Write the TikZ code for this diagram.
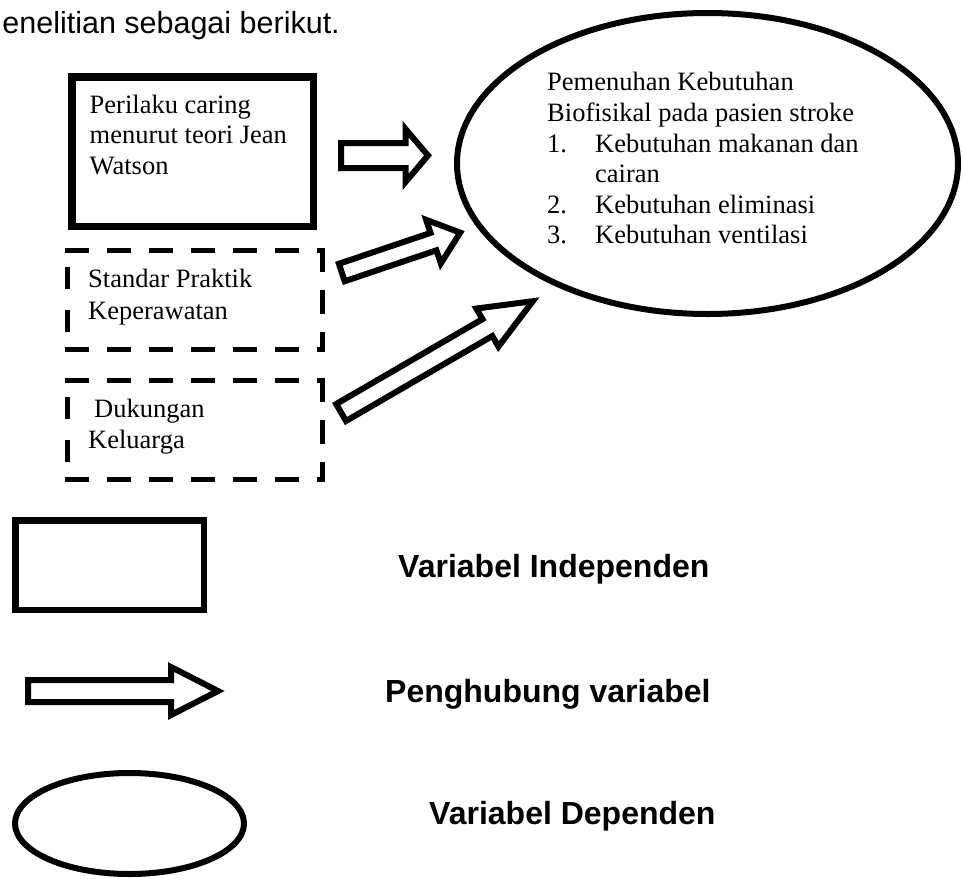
\documentclass[tikz,border=0pt]{standalone}
\usepackage{fontspec}
\newfontfamily\tnrfont{Liberation Serif}
\newfontfamily\arlfont{Liberation Sans}
\usetikzlibrary{calc}
\tikzset{
  arrowln/.style={line width=6pt, line join=miter, miter limit=20},
  boxln/.style={line width=7.5pt, line join=miter},
  legboxln/.style={line width=6.5pt, line join=miter},
  ellln/.style={line width=6pt},
  dashln/.style={line width=5pt, dash pattern=on 24pt off 18pt},
  sidedash/.style={line width=5pt, dash pattern=on 22pt off 21pt},
  tnrtxt/.style={font=\tnrfont\fontsize{26.5}{30}\selectfont, anchor=base west, inner sep=0pt},
  legtxt/.style={font=\arlfont\bfseries\fontsize{32}{36}\selectfont, anchor=base west, inner sep=0pt},
  bodytxt/.style={font=\arlfont\fontsize{30.5}{34}\selectfont, anchor=base east, inner sep=0pt}
}
% #1 tail coordinate, #2 tip coordinate, #3 shaft half width, #4 head half width, #5 head length
\newcommand\blockarrow[5]{%
  \coordinate (#1-hb) at ($(#2)!#5!(#1)$);
  \draw[arrowln] ($(#1)!#3!90:(#2)$) -- ($(#1-hb)!#3!90:(#2)$) -- ($(#1-hb)!#4!90:(#2)$)
    -- (#2) -- ($(#1-hb)!#4!-90:(#2)$) -- ($(#1-hb)!#3!-90:(#2)$) -- ($(#1)!#3!-90:(#2)$) -- cycle;
}
\begin{document}
\begin{tikzpicture}[x=1pt,y=-1pt]
\useasboundingbox (0,0) rectangle (963,878);

% heading text
\node[bodytxt] (head) at (340,33) {enelitian sebagai berikut.};

% box 1 (solid)
\draw[boxln] (71.75,76.75) rectangle (313.25,226.25);
\node[tnrtxt] (b1a) at (89.5,113) {Perilaku caring};
\node[tnrtxt] (b1b) at (89.5,143.5) {menurut teori Jean};
\node[tnrtxt] (b1c) at (89.5,174) {Watson};

% box 2 (dashed)
\draw[dashln] (65,250.5) -- (325,250.5);
\draw[dashln] (322.5,248) -- (322.5,352);
\draw[dashln] (65,349.5) -- (325,349.5);
\draw[sidedash] (67.5,267) -- (67.5,332);
\node[tnrtxt] (b2a) at (88,287) {Standar Praktik};
\node[tnrtxt] (b2b) at (88,319) {Keperawatan};

% box 3 (dashed)
\draw[dashln] (65,380.5) -- (325,380.5);
\draw[dashln] (322.5,378) -- (322.5,482);
\draw[dashln] (65,479.5) -- (325,479.5);
\draw[sidedash] (67.5,397) -- (67.5,462);
\node[tnrtxt] (b3a) at (94,417) {Dukungan};
\node[tnrtxt] (b3b) at (88,448) {Keluarga};

% dependent ellipse
\draw[ellln] (707.5,163.5) ellipse [x radius=250.5pt, y radius=150.5pt];
\node[tnrtxt] (e1) at (547,90.5) {Pemenuhan Kebutuhan};
\node[tnrtxt] (e2) at (547,121) {Biofisikal pada pasien stroke};
\node[tnrtxt] (n1) at (547,152) {1.};
\node[tnrtxt] (e3) at (595,152) {Kebutuhan makanan dan};
\node[tnrtxt] (e4) at (595,182) {cairan};
\node[tnrtxt] (n2) at (547,213) {2.};
\node[tnrtxt] (e5) at (595,213) {Kebutuhan eliminasi};
\node[tnrtxt] (n3) at (547,243) {3.};
\node[tnrtxt] (e6) at (595,243) {Kebutuhan ventilasi};

% connecting block arrows
\coordinate (a1t) at (341,155.5);
\coordinate (a1h) at (428,155.5);
\blockarrow{a1t}{a1h}{12.5pt}{26.5pt}{22.5pt}

\coordinate (a2t) at (341.8,272.5);
\coordinate (a2h) at (460.2,232.6);
\blockarrow{a2t}{a2h}{9.2pt}{23pt}{28.2pt}

\coordinate (a3t) at (341.1,412.5);
\coordinate (a3h) at (532.8,301.2);
\blockarrow{a3t}{a3h}{9.8pt}{22pt}{52.5pt}

% legend
\draw[legboxln] (15.25,520.25) rectangle (203.75,609.75);
\node[legtxt] (l1) at (398,577) {Variabel Independen};

\coordinate (lat) at (28,691);
\coordinate (lah) at (218,691);
\blockarrow{lat}{lah}{11pt}{24pt}{47pt}
\node[legtxt] (l2) at (385,702) {Penghubung variabel};

\draw[ellln] (129.5,823.5) ellipse [x radius=114.5pt, y radius=50.5pt];
\node[legtxt] (l3) at (429,824) {Variabel Dependen};
\end{tikzpicture}
\end{document}
